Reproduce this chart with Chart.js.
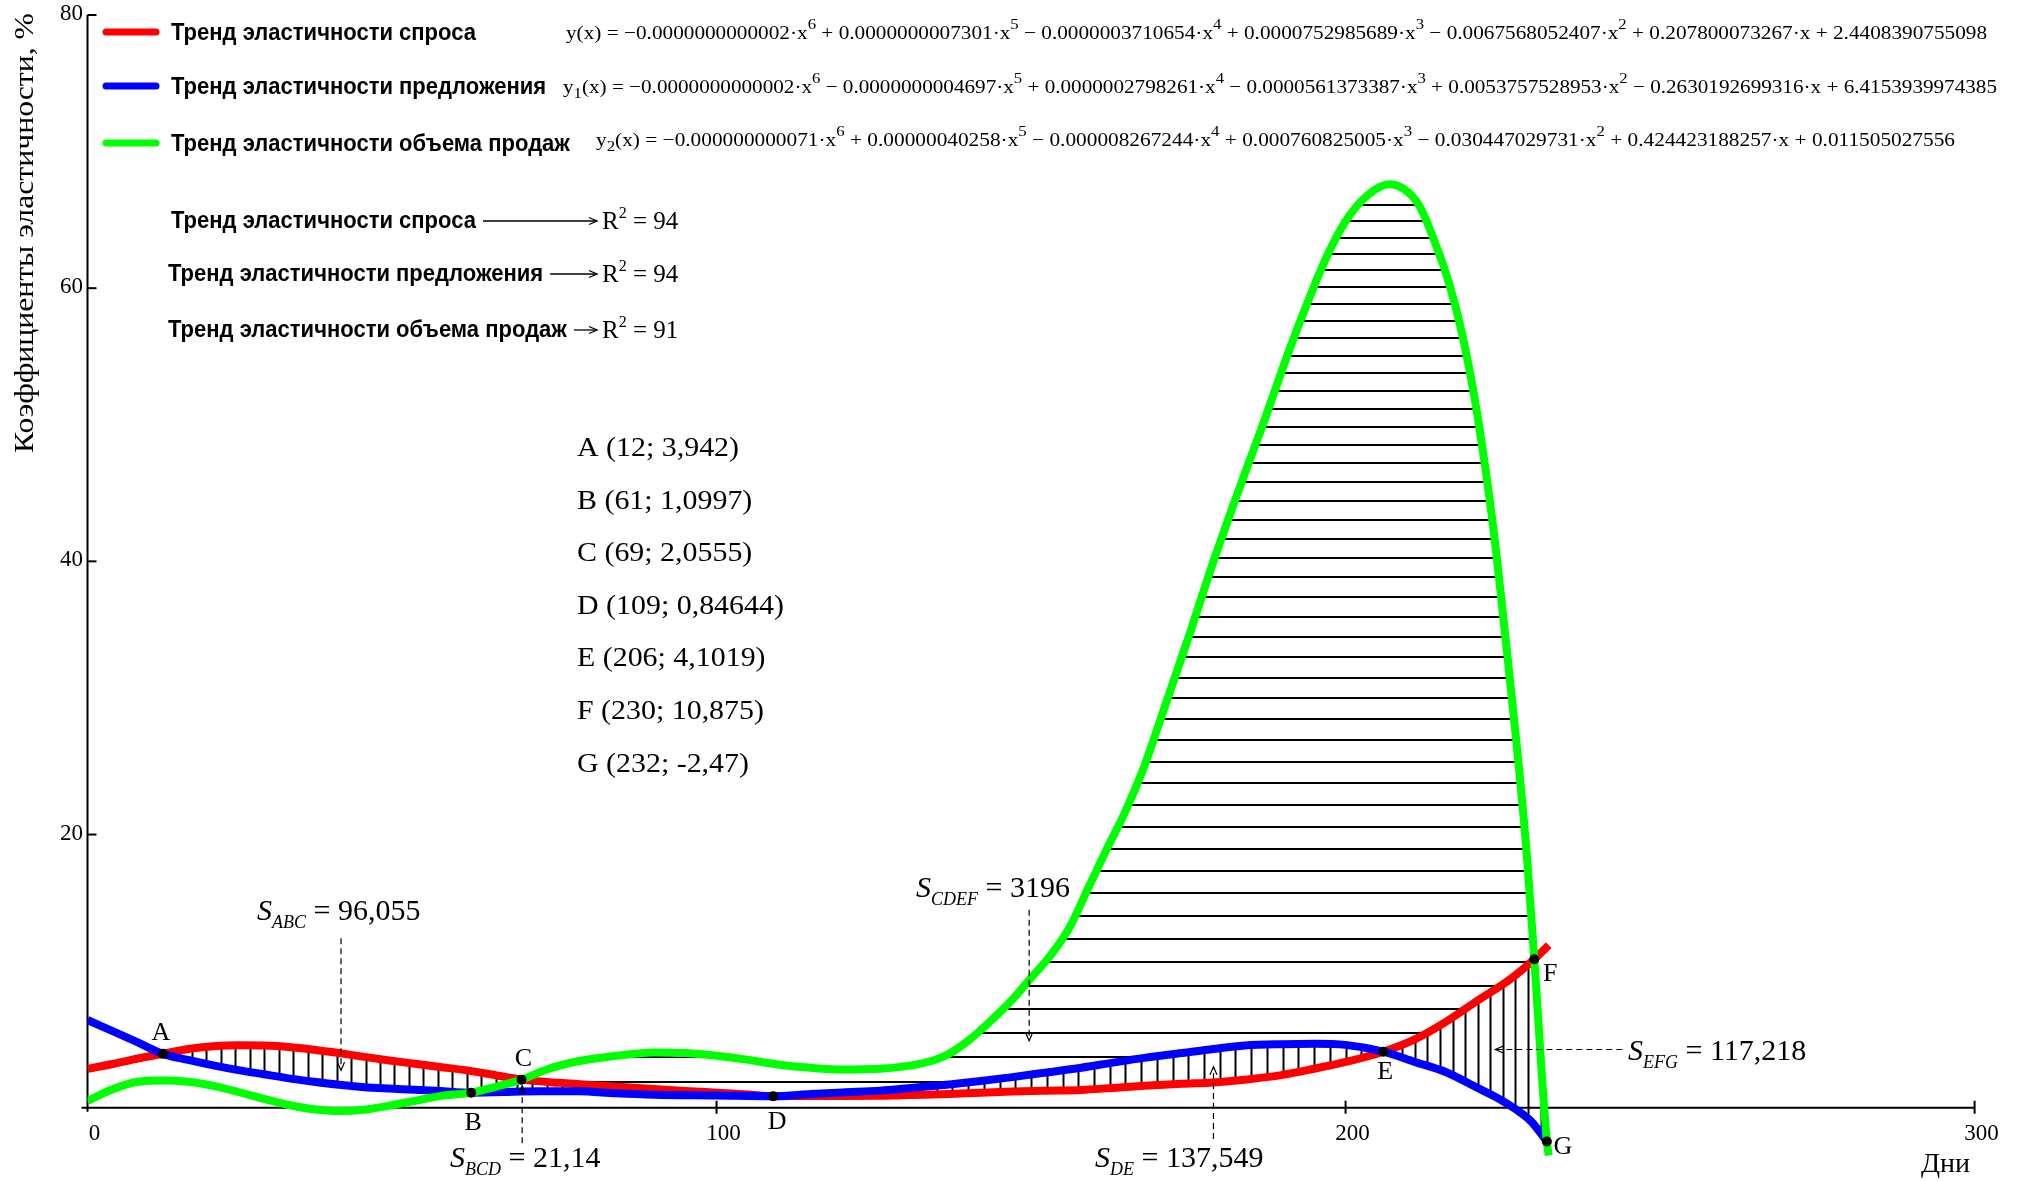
<!DOCTYPE html>
<html lang="ru">
<head>
<meta charset="utf-8">
<title>Тренды эластичности</title>
<script src="https://cdn.jsdelivr.net/npm/chart.js@4.4.1/dist/chart.umd.min.js"></script>
<style>
  html, body { margin: 0; padding: 0; background: #ffffff; overflow: hidden; }
  #wrap { position: relative; width: 2017px; height: 1181px; }
  canvas { display: block; }
</style>
</head>
<body>
<div id="wrap"><canvas id="chart" width="2017" height="1181" style="width:2017px;height:1181px"></canvas></div>
<script>
// ---- Тренд эластичности спроса (красный) ----
const demandDays = [0, 4, 8, 12, 16, 20, 24, 28, 32, 36, 40, 44, 48, 52, 56, 60, 64, 69, 75, 80, 85, 90, 95, 100, 105, 109, 115, 120, 126, 131, 137, 142, 147, 152, 158, 163, 168, 174, 179, 184, 190, 195, 200, 206, 211, 216, 221, 226, 230, 232.3];
const demandValues = [2.85, 3.2, 3.6, 3.942, 4.3, 4.5, 4.58, 4.55, 4.45, 4.25, 4.0, 3.72, 3.46, 3.22, 2.98, 2.75, 2.45, 2.0555, 1.82, 1.66, 1.52, 1.37, 1.23, 1.1, 0.97, 0.84644, 0.86, 0.86, 0.87, 0.93, 1.0, 1.1, 1.18, 1.24, 1.3, 1.45, 1.6, 1.75, 1.85, 2.05, 2.4, 2.85, 3.35, 4.1019, 5.0, 6.3, 7.85, 9.35, 10.875, 11.9];

// ---- Тренд эластичности предложения (синий) ----
const supplyDays = [0, 4, 8, 12, 16, 20, 24, 28, 32, 36, 40, 44, 48, 52, 56, 61, 66, 72, 78, 84, 90, 100, 109, 115, 120, 126, 131, 137, 142, 147, 152, 158, 163, 168, 174, 179, 184, 190, 195, 200, 206, 211, 216, 221, 224, 227, 229.5, 232];
const supplyValues = [6.42, 5.6, 4.78, 3.942, 3.5, 3.1, 2.75, 2.45, 2.15, 1.9, 1.68, 1.5, 1.4, 1.32, 1.22, 1.0997, 1.15, 1.2, 1.2, 1.05, 0.95, 0.9, 0.84644, 1.0, 1.12, 1.25, 1.45, 1.7, 1.95, 2.24, 2.55, 2.93, 3.3, 3.65, 4.0, 4.3, 4.55, 4.65, 4.68, 4.6, 4.1019, 3.35, 2.6, 1.45, 0.75, -0.1, -1.0, -2.47];

// ---- Тренд эластичности объема продаж (зеленый) ----
const salesDays = [0, 4, 8, 12, 16, 20, 24, 28, 32, 36, 40, 44, 48, 52, 56, 61, 65, 69, 73, 78, 84, 90, 95, 100, 105, 110, 115, 120, 126, 131, 134, 137, 140, 143, 147, 150, 153, 156, 159, 162, 165, 168, 171, 175, 179, 183, 187, 191, 194, 197, 200, 203.5, 207, 210, 212, 214, 216.5, 218.7, 221, 223.5, 225.4, 227.2, 228.8, 230, 232, 232.3];
const salesValues = [0.5, 1.35, 1.9, 2.0, 1.9, 1.6, 1.15, 0.65, 0.2, -0.12, -0.25, -0.15, 0.15, 0.5, 0.85, 1.0997, 1.55, 2.0555, 2.8, 3.4, 3.8, 4.05, 4.0, 3.8, 3.5, 3.15, 2.92, 2.8, 2.85, 3.1, 3.4, 3.95, 4.9, 6.1, 7.9, 9.5, 11.1, 13.1, 16.0, 18.9, 21.7, 25.0, 29.0, 34.4, 40.0, 45.2, 50.2, 55.4, 59.0, 62.3, 64.9, 66.8, 67.6, 67.0, 65.8, 63.6, 60.3, 56.3, 50.6, 42.4, 34.5, 26.6, 18.6, 10.875, -2.47, -3.5];

// ---- Точки пересечения трендов ----
const pointNames = ['A', 'B', 'C', 'D', 'E', 'F', 'G'];
const pointDays = [12, 61, 69, 109, 206, 230, 232];
const pointValues = [3.942, 1.0997, 2.0555, 0.84644, 4.1019, 10.875, -2.47];

// ---- Площади между трендами ----
const areaNames = ['ABC', 'BCD', 'CDEF', 'DE', 'EFG'];
const areaValues = [96.055, 21.14, 3196, 137.549, 117.218];

// ---- Подписи рядов, коэффициенты полиномов, R^2 ----
const seriesNames = ['Тренд эластичности спроса', 'Тренд эластичности предложения', 'Тренд эластичности объема продаж'];
const demandCoef = ['−0.0000000000002', '+ 0.0000000007301', '− 0.0000003710654', '+ 0.0000752985689', '− 0.0067568052407', '+ 0.207800073267', '+ 2.4408390755098'];
const supplyCoef = ['−0.0000000000002', '− 0.0000000004697', '+ 0.0000002798261', '− 0.0000561373387', '+ 0.0053757528953', '− 0.2630192699316', '+ 6.4153939974385'];
const salesCoef = ['−0.000000000071', '+ 0.00000040258', '− 0.000008267244', '+ 0.000760825005', '− 0.030447029731', '+ 0.424423188257', '+ 0.011505027556'];
const r2Values = [94, 94, 91];

// ---- Оси ----
const xTicks = [0, 100, 200, 300];
const yTicks = [20, 40, 60, 80];

const SERIF = '"Liberation Serif", "Times New Roman", serif';
const SANS = '"Liberation Sans", Arial, sans-serif';
const RED = '#ff0000', BLUE = '#0000ff', GREEN = '#00ff00';

// Monotone cubic, same scheme as Chart.js uses for cubicInterpolationMode: 'monotone'
function monotone(xs, ys) {
  const n = xs.length, d = [], m = [];
  for (let i = 0; i < n - 1; i++) {
    const dx = xs[i + 1] - xs[i];
    d[i] = dx !== 0 ? (ys[i + 1] - ys[i]) / dx : 0;
  }
  for (let i = 0; i < n; i++) {
    m[i] = i === 0 ? d[0] : i === n - 1 ? d[n - 2]
      : (Math.sign(d[i - 1]) !== Math.sign(d[i])) ? 0 : (d[i - 1] + d[i]) / 2;
  }
  for (let i = 0; i < n - 1; i++) {
    if (Math.abs(d[i]) < 1e-12) { m[i] = m[i + 1] = 0; continue; }
    const a = m[i] / d[i], b = m[i + 1] / d[i], s = a * a + b * b;
    if (s <= 9) continue;
    const t = 3 / Math.sqrt(s);
    m[i] = a * t * d[i]; m[i + 1] = b * t * d[i];
  }
  return x => {
    if (!(x >= xs[0] && x <= xs[n - 1])) return NaN;
    let i = 0;
    while (i < n - 2 && x > xs[i + 1]) i++;
    const h = xs[i + 1] - xs[i], t = (x - xs[i]) / h, t2 = t * t, t3 = t2 * t;
    return (2 * t3 - 3 * t2 + 1) * ys[i] + (t3 - 2 * t2 + t) * h * m[i]
      + (-2 * t3 + 3 * t2) * ys[i + 1] + (t3 - t2) * h * m[i + 1];
  };
}
const red = monotone(demandDays, demandValues);
const blue = monotone(supplyDays, supplyValues);
const green = monotone(salesDays, salesValues);

// Vertical hatching of the areas between trends
const verticalHatch = [
  { from: 12, to: 69, step: 2.3, top: x => red(x), bottom: x => Math.max(blue(x), green(x)) },
  { from: 61, to: 109, step: 2.4, top: x => Math.min(red(x), green(x)), bottom: x => blue(x) },
  { from: 110, to: 206, step: 2.5, top: x => blue(x), bottom: x => red(x) },
  { from: 207, to: 232, step: 2, top: x => Math.min(red(x), green(x)), bottom: x => blue(x) }
];

// Dashed pointers from area captions (data units)
const pointers = [
  { x1: 40.3, y1: 12.4, x2: 40.3, y2: 2.75 },
  { x1: 69.1, y1: -2.6, x2: 69.1, y2: 1.6 },
  { x1: 149.7, y1: 14.5, x2: 149.7, y2: 4.9 },
  { x1: 179, y1: -2.3, x2: 179, y2: 3.0 },
  { x1: 244, y1: 4.26, x2: 223.8, y2: 4.26 }
];
// Caption placement (pixels): left edge and baseline
const areaCaptionPos = [[257, 920], [450, 1167], [916, 897], [1095, 1167], [1628, 1060]];
const pointLabelOffset = [[-2, -21], [2, 30], [2, -20], [4, 26], [2, 20], [16, 15], [16, 6]];

function fmt(v) { return String(v).replace('.', ','); }

function richWidth(ctx, parts) {
  let w = 0;
  for (const p of parts) { ctx.font = p.f; w += ctx.measureText(p.t).width; }
  return w;
}
function drawRich(ctx, parts, x, y, sx) {
  ctx.save();
  ctx.translate(x, y);
  ctx.scale(sx, 1);
  let cx = 0;
  for (const p of parts) {
    ctx.font = p.f;
    ctx.fillText(p.t, cx, p.dy || 0);
    cx += ctx.measureText(p.t).width;
  }
  ctx.restore();
  return cx * sx;
}
function arrowHead(ctx, x1, y1, x2, y2, len, half) {
  const a = Math.atan2(y2 - y1, x2 - x1);
  ctx.beginPath();
  ctx.moveTo(x2 - len * Math.cos(a) + half * Math.sin(a), y2 - len * Math.sin(a) - half * Math.cos(a));
  ctx.lineTo(x2, y2);
  ctx.lineTo(x2 - len * Math.cos(a) - half * Math.sin(a), y2 - len * Math.sin(a) + half * Math.cos(a));
  ctx.stroke();
}
function equationParts(name, sub, coefs) {
  const base = '19px ' + SERIF, small = '15px ' + SERIF;
  const parts = [{ t: name, f: base }];
  if (sub) parts.push({ t: sub, f: small, dy: 5 });
  let cur = '(x) = ';
  coefs.forEach((c, i) => {
    const deg = coefs.length - 1 - i;
    cur += (i === 0 ? '' : ' ') + c;
    if (deg >= 1) cur += '·x';
    if (deg >= 2) {
      parts.push({ t: cur, f: base });
      parts.push({ t: String(deg), f: small, dy: -10 });
      cur = '';
    }
  });
  if (cur) parts.push({ t: cur, f: base });
  return parts;
}

const hatchPlugin = {
  id: 'hatchAndAxes',
  beforeDatasetsDraw(chart) {
    const { ctx, scales: { x: xs, y: ys } } = chart;
    const px = v => xs.getPixelForValue(v), py = v => ys.getPixelForValue(v);
    ctx.save();
    ctx.strokeStyle = '#000';
    ctx.lineWidth = 2;
    ctx.lineCap = 'butt';
    // vertical hatching
    for (const h of verticalHatch) {
      for (let x = h.from; x <= h.to + 1e-9; x += h.step) {
        const t = h.top(x), b = h.bottom(x);
        if (!(t > b)) continue;
        ctx.beginPath();
        ctx.moveTo(Math.round(px(x)) + 0.5, py(t));
        ctx.lineTo(Math.round(px(x)) + 0.5, py(b));
        ctx.stroke();
      }
    }
    // horizontal hatching of the CDEF area
    const peak = Math.max(...salesValues);
    let level = 1.9;
    while (level < peak - 0.6) {
      let start = null;
      for (let x = 60; x <= 232.35; x += 0.05) {
        const g = green(x), r = red(x), b = blue(x);
        const low = isNaN(b) ? r : Math.max(r, b);
        const inside = g > level && low < level;
        if (inside && start === null) start = x;
        if ((!inside || x + 0.05 > 232.35) && start !== null) {
          ctx.beginPath();
          ctx.moveTo(px(start), Math.round(py(level)));
          ctx.lineTo(px(x), Math.round(py(level)));
          ctx.stroke();
          start = null;
        }
      }
      level += 1.8 - 0.65 * level / peak;
    }
    // axes
    const ox = px(0), oy = py(0);
    ctx.lineWidth = 2;
    ctx.beginPath();
    ctx.moveTo(ox - 6, oy); ctx.lineTo(px(300), oy);
    ctx.moveTo(ox, oy + 4); ctx.lineTo(ox, py(80));
    ctx.stroke();
    for (const v of xTicks) {
      if (v === 0) continue;
      ctx.beginPath(); ctx.moveTo(px(v), oy - 7); ctx.lineTo(px(v), oy + 6); ctx.stroke();
    }
    for (const v of yTicks) {
      ctx.beginPath(); ctx.moveTo(ox, py(v)); ctx.lineTo(ox + 9, py(v)); ctx.stroke();
    }
    ctx.restore();
  },
  afterDraw(chart) {
    const { ctx, scales: { x: xs, y: ys } } = chart;
    const px = v => xs.getPixelForValue(v), py = v => ys.getPixelForValue(v);
    ctx.save();
    ctx.fillStyle = '#000';
    ctx.strokeStyle = '#000';
    ctx.textBaseline = 'alphabetic';
    ctx.textAlign = 'left';

    // tick labels
    ctx.font = '23px ' + SERIF;
    ctx.textAlign = 'center';
    for (const v of xTicks) ctx.fillText(String(v), px(v) + 7, 1140);
    ctx.textAlign = 'right';
    ctx.textBaseline = 'middle';
    for (const v of yTicks) ctx.fillText(String(v), 83, py(v) - 1);
    ctx.textAlign = 'left';
    ctx.textBaseline = 'alphabetic';

    // axis titles
    ctx.font = '28px ' + SERIF;
    ctx.fillText('Дни', 1921, 1172);
    {
      const title = 'Коэффициенты эластичности, %';
      ctx.font = '27px ' + SERIF;
      const w = ctx.measureText(title).width;
      ctx.save();
      ctx.translate(26, 233);
      ctx.rotate(-Math.PI / 2);
      ctx.scale(440 / w, 1);
      ctx.textAlign = 'center';
      ctx.textBaseline = 'middle';
      ctx.fillText(title, 0, 0);
      ctx.restore();
    }

    // legend samples, series names and trend equations
    const legendColors = [RED, BLUE, GREEN];
    const legendRows = [32, 86, 143];
    const sansFont = 'bold 23px ' + SANS;
    ctx.font = sansFont;
    const sansScale = 305 / ctx.measureText(seriesNames[0]).width;
    ctx.lineCap = 'round';
    legendRows.forEach((y, i) => {
      ctx.strokeStyle = legendColors[i];
      ctx.lineWidth = 7;
      ctx.beginPath(); ctx.moveTo(106, y); ctx.lineTo(156, y); ctx.stroke();
      drawRich(ctx, [{ t: seriesNames[i], f: sansFont }], 171, y + 8, sansScale);
    });
    ctx.strokeStyle = '#000';
    const eqs = [
      { parts: equationParts('y', '', demandCoef), x: 566, y: 39, w: 1421 },
      { parts: equationParts('y', '1', supplyCoef), x: 563, y: 93, w: 1434 },
      { parts: equationParts('y', '2', salesCoef), x: 596, y: 146, w: 1359 }
    ];
    for (const e of eqs) drawRich(ctx, e.parts, e.x, e.y, e.w / richWidth(ctx, e.parts));

    // R^2 block
    const r2Rows = [[171, 220], [168, 273], [168, 329]];
    ctx.lineCap = 'butt';
    r2Rows.forEach(([x, y], i) => {
      const w = drawRich(ctx, [{ t: seriesNames[i], f: sansFont }], x, y + 8, sansScale);
      const ax = x + w + 7;
      ctx.lineWidth = 1.3;
      ctx.beginPath(); ctx.moveTo(ax, y + 1); ctx.lineTo(597, y + 1); ctx.stroke();
      arrowHead(ctx, ax, y + 1, 597, y + 1, 8, 3.5);
      drawRich(ctx, [
        { t: 'R', f: '25px ' + SERIF },
        { t: '2', f: '16px ' + SERIF, dy: -11 },
        { t: ' = ' + r2Values[i], f: '25px ' + SERIF }
      ], 602, y + 9, 1);
    });

    // list of intersection points
    const listFont = '28px ' + SERIF;
    const listText = pointNames.map((n, i) => n + ' (' + pointDays[i] + '; ' + fmt(pointValues[i]) + ')');
    ctx.font = listFont;
    const listScale = 162 / ctx.measureText(listText[0]).width;
    listText.forEach((t, i) => drawRich(ctx, [{ t, f: listFont }], 577, 456 + i * 52.6, listScale));

    // point letters
    ctx.font = '26px ' + SERIF;
    ctx.textAlign = 'center';
    ctx.textBaseline = 'middle';
    pointNames.forEach((n, i) => {
      ctx.fillText(n, px(pointDays[i]) + pointLabelOffset[i][0], py(pointValues[i]) + pointLabelOffset[i][1]);
    });
    ctx.textAlign = 'left';
    ctx.textBaseline = 'alphabetic';

    // dashed pointers
    ctx.lineWidth = 1.2;
    for (const p of pointers) {
      const x1 = px(p.x1), y1 = py(p.y1), x2 = px(p.x2), y2 = py(p.y2);
      ctx.setLineDash([6, 4]);
      ctx.beginPath(); ctx.moveTo(x1, y1); ctx.lineTo(x2, y2); ctx.stroke();
      ctx.setLineDash([]);
      arrowHead(ctx, x1, y1, x2, y2, 8, 3.5);
    }

    // area captions
    areaNames.forEach((n, i) => {
      const [x, y] = areaCaptionPos[i];
      drawRich(ctx, [
        { t: 'S', f: 'italic 30px ' + SERIF },
        { t: n, f: 'italic 18px ' + SERIF, dy: 8 },
        { t: ' = ' + fmt(areaValues[i]), f: '30px ' + SERIF }
      ], x, y, 1);
    });
    ctx.restore();
  }
};

const toXY = (xs, ys) => xs.map((x, i) => ({ x, y: ys[i] }));

new Chart(document.getElementById('chart'), {
  type: 'line',
  data: {
    datasets: [
      {
        type: 'scatter', label: 'Точки', data: toXY(pointDays, pointValues),
        pointRadius: 5, pointBackgroundColor: '#000', pointBorderWidth: 0, showLine: false, order: 0
      },
      {
        label: seriesNames[2], data: toXY(salesDays, salesValues), borderColor: GREEN, borderWidth: 8,
        pointRadius: 0, cubicInterpolationMode: 'monotone', fill: false, order: 1
      },
      {
        label: seriesNames[1], data: toXY(supplyDays, supplyValues), borderColor: BLUE, borderWidth: 8,
        pointRadius: 0, cubicInterpolationMode: 'monotone', fill: false, order: 2
      },
      {
        label: seriesNames[0], data: toXY(demandDays, demandValues), borderColor: RED, borderWidth: 8,
        pointRadius: 0, cubicInterpolationMode: 'monotone', fill: false, order: 3
      }
    ]
  },
  options: {
    responsive: false,
    animation: false,
    devicePixelRatio: 1,
    layout: { padding: { left: 87.5, right: 42.4, top: 15, bottom: 3.65 } },
    scales: {
      x: { type: 'linear', min: 0, max: 300, display: false },
      y: { type: 'linear', min: -5, max: 80, display: false }
    },
    plugins: { legend: { display: false }, tooltip: { enabled: false } },
    events: []
  },
  plugins: [hatchPlugin]
});
</script>
</body>
</html>
